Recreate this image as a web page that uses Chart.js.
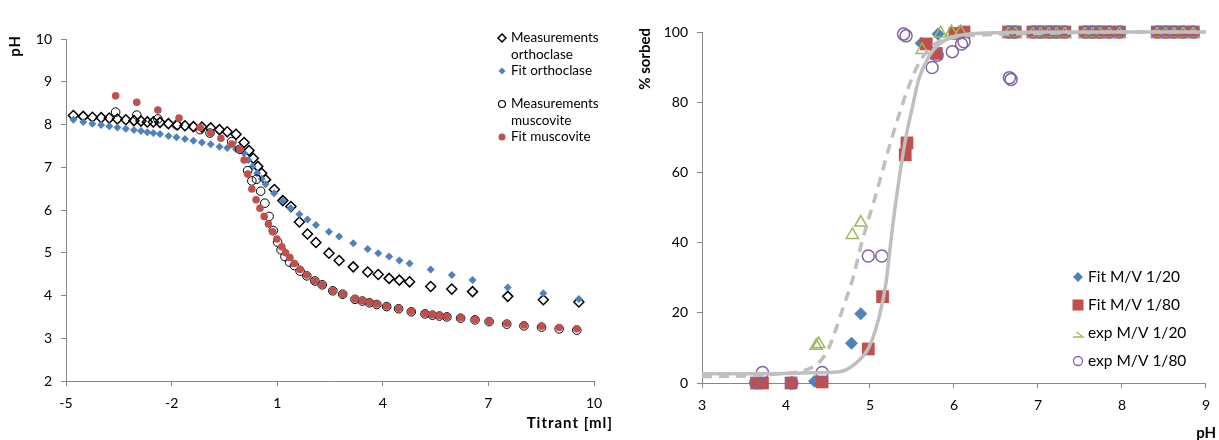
<!DOCTYPE html>
<html>
<head>
<meta charset="utf-8">
<script src="https://cdn.jsdelivr.net/npm/chart.js"></script>
<style>
  body { margin: 0; background: #fff; }
  #wrap { position: relative; width: 1219px; height: 440px; }
  #leftChart { position: absolute; left: 0; top: 0; }
  #rightChart { position: absolute; left: 620px; top: 0; }
</style>
</head>
<body>
<div id="wrap">
  <canvas id="leftChart" width="620" height="440"></canvas>
  <canvas id="rightChart" width="599" height="440"></canvas>
</div>
<script>
// ---------- left chart: titration curves ----------
var orthoMeasX = [-4.79, -4.51, -4.25, -4.0, -3.77, -3.54, -3.30, -3.07, -2.87, -2.69, -2.52, -2.33, -2.09, -1.84, -1.62, -1.38, -1.14, -0.89, -0.64, -0.42, -0.17, 0.06, 0.20, 0.32, 0.45, 0.56, 0.67, 0.92, 1.16, 1.39, 1.63, 1.86, 2.10, 2.47, 2.76, 3.16, 3.57, 3.87, 4.18, 4.47, 4.76, 5.36, 5.96, 6.55, 7.55, 8.56, 9.57];
var orthoMeasY = [8.21, 8.19, 8.17, 8.16, 8.15, 8.13, 8.11, 8.09, 8.08, 8.06, 8.06, 8.05, 8.02, 7.99, 7.97, 7.95, 7.94, 7.92, 7.88, 7.83, 7.77, 7.58, 7.39, 7.21, 7.02, 6.86, 6.71, 6.48, 6.22, 6.08, 5.72, 5.44, 5.24, 4.99, 4.82, 4.67, 4.55, 4.49, 4.40, 4.36, 4.32, 4.21, 4.15, 4.09, 3.98, 3.90, 3.85];

var orthoFitX = [-4.79, -4.51, -4.25, -4.0, -3.77, -3.54, -3.30, -3.07, -2.87, -2.69, -2.52, -2.33, -2.09, -1.86, -1.62, -1.38, -1.14, -0.89, -0.64, -0.42, -0.17, 0.06, 0.18, 0.30, 0.43, 0.56, 0.67, 0.91, 1.15, 1.38, 1.63, 1.86, 2.10, 2.47, 2.76, 3.16, 3.57, 3.87, 4.18, 4.47, 4.76, 5.36, 5.96, 6.55, 7.55, 8.56, 9.57];
var orthoFitY = [8.11, 8.06, 8.02, 7.99, 7.96, 7.93, 7.90, 7.87, 7.85, 7.82, 7.80, 7.78, 7.73, 7.70, 7.66, 7.62, 7.58, 7.54, 7.48, 7.45, 7.42, 7.33, 7.17, 7.02, 6.86, 6.73, 6.60, 6.39, 6.21, 6.04, 5.90, 5.78, 5.65, 5.49, 5.38, 5.22, 5.09, 4.99, 4.91, 4.82, 4.75, 4.61, 4.48, 4.36, 4.19, 4.05, 3.92];

var muscMeasX = [-3.59, -2.99, -2.39, -1.86, -1.19, -0.91, -0.29, -0.06, 0.16, 0.28, 0.41, 0.53, 0.65, 0.77, 0.89, 1.01, 1.11, 1.22, 1.35, 1.49, 1.65, 1.84, 2.07, 2.28, 2.58, 2.86, 3.21, 3.42, 3.62, 3.83, 4.11, 4.45, 4.81, 5.20, 5.41, 5.61, 5.82, 6.21, 6.62, 7.02, 7.52, 8.01, 8.51, 9.01, 9.51];
var muscMeasY = [8.29, 8.22, 8.13, 7.99, 7.88, 7.80, 7.60, 7.42, 6.92, 6.68, 6.72, 6.44, 6.16, 5.85, 5.52, 5.25, 5.07, 4.91, 4.78, 4.70, 4.57, 4.46, 4.34, 4.25, 4.11, 4.03, 3.91, 3.87, 3.83, 3.79, 3.74, 3.69, 3.62, 3.57, 3.54, 3.52, 3.50, 3.47, 3.43, 3.39, 3.33, 3.29, 3.26, 3.22, 3.19];

var muscFitX = [-3.59, -2.99, -2.39, -1.79, -1.19, -0.89, -0.60, -0.29, -0.06, 0.06, 0.16, 0.28, 0.40, 0.51, 0.63, 0.75, 0.87, 0.99, 1.13, 1.24, 1.36, 1.49, 1.65, 1.84, 2.07, 2.28, 2.58, 2.86, 3.21, 3.42, 3.62, 3.83, 4.11, 4.45, 4.81, 5.20, 5.41, 5.61, 5.82, 6.21, 6.62, 7.02, 7.52, 8.01, 8.51, 9.01, 9.51];
var muscFitY = [8.67, 8.52, 8.34, 8.15, 7.93, 7.80, 7.68, 7.54, 7.42, 7.17, 6.84, 6.49, 6.24, 6.04, 5.85, 5.67, 5.49, 5.32, 5.14, 5.00, 4.89, 4.75, 4.61, 4.48, 4.34, 4.25, 4.11, 4.03, 3.92, 3.88, 3.84, 3.80, 3.75, 3.70, 3.63, 3.58, 3.55, 3.53, 3.51, 3.48, 3.44, 3.40, 3.35, 3.31, 3.28, 3.25, 3.22];

var leftXTicks = [-5, -2, 1, 4, 7, 10];
var leftYTicks = [2, 3, 4, 5, 6, 7, 8, 9, 10];

// ---------- right chart: sorption edges ----------
var fit20PH = [4.34, 4.78, 4.89, 5.61, 5.81, 6.10, 6.65, 6.73, 6.94, 7.03, 7.13, 7.22, 7.32, 7.56, 7.65, 7.74, 7.85, 7.97, 8.42, 8.52, 8.62, 8.73, 8.85];
var fit20Pct = [0.5, 11.3, 19.7, 96.8, 99.4, 100, 100, 100, 100, 100, 100, 100, 100, 100, 100, 100, 100, 100, 100, 100, 100, 100, 100];

var fit80PH = [3.65, 3.72, 4.06, 4.43, 4.98, 5.15, 5.42, 5.44, 5.67, 5.79, 6.01, 6.12, 6.65, 6.73, 6.94, 7.03, 7.13, 7.22, 7.32, 7.56, 7.65, 7.74, 7.85, 7.97, 8.42, 8.52, 8.62, 8.73, 8.85];
var fit80Pct = [0, 0, 0, 0.3, 9.7, 24.6, 65.0, 68.4, 96.6, 93.9, 99.6, 100, 100, 100, 100, 100, 100, 100, 100, 100, 100, 100, 100, 100, 100, 100, 100, 100, 100];

var exp20PH = [4.36, 4.39, 4.79, 4.89, 5.62, 5.84, 5.97, 6.08, 6.65, 6.73, 6.94, 7.03, 7.13, 7.22, 7.32, 7.56, 7.65, 7.74, 7.85, 7.97, 8.42, 8.52, 8.62, 8.73, 8.85];
var exp20Pct = [10.6, 11.1, 42.2, 45.7, 94.9, 99.6, 100, 100, 99.5, 99.5, 99.5, 99.5, 99.5, 99.5, 99.5, 99.5, 99.5, 99.5, 99.5, 99.5, 99.5, 99.5, 99.5, 99.5, 99.5];

var exp80PH = [3.64, 3.72, 4.07, 4.43, 4.98, 5.14, 5.40, 5.43, 5.74, 5.80, 5.98, 6.09, 6.12, 6.66, 6.68, 6.65, 6.73, 6.94, 7.03, 7.13, 7.22, 7.32, 7.56, 7.65, 7.74, 7.85, 7.97, 8.42, 8.52, 8.62, 8.73, 8.85];
var exp80Pct = [0.1, 3.0, 0, 3.0, 36.2, 36.2, 99.4, 98.9, 89.9, 93.4, 94.4, 96.6, 97.2, 87.0, 86.5, 100, 100, 100, 100, 100, 100, 100, 100, 100, 100, 100, 100, 100, 100, 100, 100, 100];

// model curves
var solidPH = [3.0, 3.5, 4.0, 4.3, 4.63, 4.83, 4.99, 5.11, 5.19, 5.26, 5.31, 5.42, 5.50, 5.58, 5.70, 5.82, 6.06, 6.5, 7.0, 8.0, 9.0];
var solidPct = [2.6, 2.6, 2.7, 2.9, 3.2, 5.6, 10.3, 18.9, 28.4, 42.7, 52.0, 69.0, 78.0, 86.5, 93.0, 96.5, 99.0, 99.8, 100, 100, 100];
var dashPH = [3.0, 3.5, 3.9, 4.1, 4.25, 4.4, 4.5, 4.59, 4.67, 4.79, 4.91, 5.05, 5.25, 5.34, 5.46, 5.58, 5.74, 6.0, 6.5, 7.0, 8.0, 9.0];
var dashPct = [1.8, 2.0, 2.6, 3.0, 3.8, 6.0, 9.5, 15.0, 20.8, 29.3, 40.7, 52.0, 69.0, 76.0, 84.4, 91.0, 96.0, 98.5, 99.3, 99.6, 100, 100];

var rightXTicks = [3, 4, 5, 6, 7, 8, 9];
var rightYTicks = [0, 20, 40, 60, 80, 100];

var BLUE = '#4F81BD', RED = '#C0504D', GREEN = '#9BBB59', PURPLE = '#8064A2';
var AXIS = '#868686', CURVE = '#BFBFBF';
var FONT = 'Lato';

function pts(xs, ys) {
  return xs.map(function (x, i) { return { x: x, y: ys[i] }; });
}

function fixedTicks(list) {
  return function (scale) { scale.ticks = list.map(function (v) { return { value: v }; }); };
}

// small marker painter for the hand placed legends
function drawMarker(ctx, m, x, y) {
  var r = m.r;
  ctx.save();
  ctx.beginPath();
  if (m.style === 'diamond') {
    ctx.moveTo(x, y - r); ctx.lineTo(x + r, y); ctx.lineTo(x, y + r); ctx.lineTo(x - r, y); ctx.closePath();
  } else if (m.style === 'square') {
    ctx.rect(x - r, y - r, 2 * r, 2 * r);
  } else if (m.style === 'triangle') {
    ctx.moveTo(x - r, y + r * 0.8); ctx.lineTo(x + r, y + r * 0.8); ctx.lineTo(x - r * 0.3, y - r * 0.2);
  } else {
    ctx.arc(x, y, r, 0, Math.PI * 2);
  }
  if (m.fill) { ctx.fillStyle = m.fill; ctx.fill(); }
  if (m.stroke) { ctx.lineWidth = m.lw || 1; ctx.strokeStyle = m.stroke; ctx.stroke(); }
  ctx.restore();
}

// legend + axis titles drawn at fixed spots, like the Excel original
function overlayPlugin(cfg) {
  return {
    id: 'overlay',
    afterDraw: function (chart) {
      var ctx = chart.ctx;
      ctx.save();
      ctx.fillStyle = '#000';
      ctx.textBaseline = 'middle';
      ctx.font = cfg.legendFont;
      ctx.textAlign = 'left';
      cfg.legend.forEach(function (it) {
        drawMarker(ctx, it.marker, cfg.legendX, it.y);
        it.lines.forEach(function (t, k) {
          ctx.fillText(t, cfg.legendX + cfg.textGap, it.y + k * cfg.lineStep);
        });
      });
      ctx.font = 'bold 15px ' + FONT;
      ctx.textAlign = 'right';
      ctx.letterSpacing = cfg.xTitleSpacing || '0px';
      ctx.fillText(cfg.xTitle, cfg.xTitlePos[0], cfg.xTitlePos[1]);
      ctx.letterSpacing = cfg.yTitleSpacing || '0px';
      ctx.translate(cfg.yTitlePos[0], cfg.yTitlePos[1]);
      ctx.rotate(-Math.PI / 2);
      ctx.fillText(cfg.yTitle, 0, 0);
      ctx.restore();
    }
  };
}

function axisOpts(min, max, list, extra) {
  var o = {
    type: 'linear', min: min, max: max,
    afterBuildTicks: fixedTicks(list),
    grid: { drawOnChartArea: false, drawTicks: true, tickLength: 5, color: AXIS },
    border: { color: AXIS, width: 1 },
    ticks: { color: '#000', font: { family: FONT, size: 14 }, maxRotation: 0, padding: 9 }
  };
  for (var k in extra) o[k] = extra[k];
  return o;
}

new Chart(document.getElementById('leftChart'), {
  type: 'scatter',
  data: {
    datasets: [
      { label: 'Measurements orthoclase', data: pts(orthoMeasX, orthoMeasY), order: 4, clip: false,
        pointStyle: 'rectRot', pointRadius: 5, pointBorderColor: '#000', pointBackgroundColor: 'rgba(0,0,0,0)', pointBorderWidth: 1.5 },
      { label: 'Fit orthoclase', data: pts(orthoFitX, orthoFitY), order: 3, clip: false,
        pointStyle: 'rectRot', pointRadius: 4, pointBorderColor: BLUE, pointBackgroundColor: BLUE, pointBorderWidth: 0 },
      { label: 'Measurements muscovite', data: pts(muscMeasX, muscMeasY), order: 2, clip: false,
        pointStyle: 'circle', pointRadius: 4.3, pointBorderColor: '#000', pointBackgroundColor: 'rgba(0,0,0,0)', pointBorderWidth: 1 },
      { label: 'Fit muscovite', data: pts(muscFitX, muscFitY), order: 1, clip: false,
        pointStyle: 'circle', pointRadius: 3.8, pointBorderColor: RED, pointBackgroundColor: RED, pointBorderWidth: 0 }
    ]
  },
  options: {
    responsive: false,
    animation: false,
    events: [],
    layout: { padding: { left: 0, top: 39, right: 26, bottom: 0 } },
    plugins: { legend: { display: false }, tooltip: { enabled: false } },
    scales: {
      x: axisOpts(-5, 10, leftXTicks, { afterFit: function (s) { s.height = 59; } }),
      y: axisOpts(2, 10, leftYTicks, { afterFit: function (s) { s.width = 66; } })
    }
  },
  plugins: [overlayPlugin({
    legendX: 502, textGap: 9, lineStep: 17, legendFont: '13.5px ' + FONT,
    legend: [
      { y: 38, lines: ['Measurements', 'orthoclase'], marker: { style: 'diamond', r: 4, stroke: '#000', lw: 1.5 } },
      { y: 71, lines: ['Fit orthoclase'], marker: { style: 'diamond', r: 3.5, fill: BLUE } },
      { y: 104, lines: ['Measurements', 'muscovite'], marker: { style: 'circle', r: 3.5, stroke: '#000', lw: 1.2 } },
      { y: 137, lines: ['Fit muscovite'], marker: { style: 'circle', r: 3.5, fill: RED } }
    ],
    xTitle: 'Titrant [ml]', xTitlePos: [613, 423], xTitleSpacing: '1px',
    yTitle: 'pH', yTitlePos: [15, 35], yTitleSpacing: '1px'
  })]
});

new Chart(document.getElementById('rightChart'), {
  type: 'scatter',
  data: {
    datasets: [
      { label: 'model', data: pts(solidPH, solidPct), order: 0, clip: false, showLine: true, pointRadius: 0,
        borderColor: CURVE, borderWidth: 3.5, cubicInterpolationMode: 'monotone' },
      { label: 'model dashed', data: pts(dashPH, dashPct), order: 0, clip: false, showLine: true, pointRadius: 0,
        borderColor: CURVE, borderWidth: 3.5, borderDash: [10, 7], cubicInterpolationMode: 'monotone' },
      { label: 'Fit M/V 1/20', data: pts(fit20PH, fit20Pct), order: 5, clip: false,
        pointStyle: 'rectRot', pointRadius: 6.5, pointBackgroundColor: BLUE, pointBorderColor: BLUE, pointBorderWidth: 0 },
      { label: 'Fit M/V 1/80', data: pts(fit80PH, fit80Pct), order: 4, clip: false,
        pointStyle: 'rect', pointRadius: 9, pointBackgroundColor: RED, pointBorderColor: RED, pointBorderWidth: 0 },
      { label: 'exp M/V 1/20', data: pts(exp20PH, exp20Pct), order: 3, clip: false,
        pointStyle: 'triangle', pointRadius: 7, pointBackgroundColor: 'rgba(0,0,0,0)', pointBorderColor: GREEN, pointBorderWidth: 1.5 },
      { label: 'exp M/V 1/80', data: pts(exp80PH, exp80Pct), order: 2, clip: false,
        pointStyle: 'circle', pointRadius: 6, pointBackgroundColor: 'rgba(0,0,0,0)', pointBorderColor: PURPLE, pointBorderWidth: 1.5 }
    ]
  },
  options: {
    responsive: false,
    animation: false,
    events: [],
    layout: { padding: { left: 0, top: 32, right: 11, bottom: 0 } },
    plugins: { legend: { display: false }, tooltip: { enabled: false } },
    scales: {
      x: axisOpts(3, 9, rightXTicks, { afterFit: function (s) { s.height = 57; } }),
      y: axisOpts(0, 100, rightYTicks, { afterFit: function (s) { s.width = 82; } })
    }
  },
  plugins: [overlayPlugin({
    legendX: 458, textGap: 10, lineStep: 0, legendFont: '15.5px ' + FONT,
    legend: [
      { y: 277, lines: ['Fit M/V 1/20'], marker: { style: 'diamond', r: 5, fill: BLUE } },
      { y: 305, lines: ['Fit M/V 1/80'], marker: { style: 'square', r: 5.5, fill: RED } },
      { y: 333, lines: ['exp M/V 1/20'], marker: { style: 'triangle', r: 5, stroke: GREEN, lw: 1.3 } },
      { y: 361, lines: ['exp M/V 1/80'], marker: { style: 'circle', r: 4.5, stroke: PURPLE, lw: 1.3 } }
    ],
    xTitle: 'pH', xTitlePos: [596, 433],
    yTitle: '% sorbed', yTitlePos: [25, 28]
  })]
});
</script>
</body>
</html>
